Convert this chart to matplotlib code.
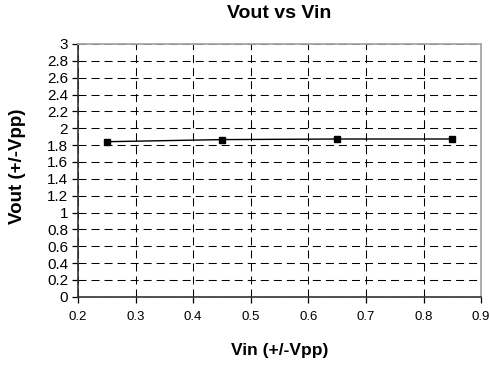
import matplotlib
matplotlib.use("Agg")
import matplotlib.pyplot as plt

# --- data ---
vin = [0.25, 0.45, 0.65, 0.85]
vout = [1.84, 1.865, 1.872, 1.872]
x_ticks = [0.2, 0.3, 0.4, 0.5, 0.6, 0.7, 0.8, 0.9]
y_ticks = [round(0.2 * i, 1) for i in range(16)]

plt.rcParams['font.family'] = ['Liberation Sans', 'DejaVu Sans']

fig = plt.figure(figsize=(4.9, 3.66), dpi=100)
ax = fig.add_axes([0.159, 0.189, 0.823, 0.691])

ax.plot(vin, vout, color='black', linewidth=1.0, marker='s', markersize=4.5, zorder=3)

ax.set_xlim(0.2, 0.9)
ax.set_ylim(0, 3)
ax.set_xticks(x_ticks)
ax.set_xticklabels([f"{t:g}" for t in x_ticks])
ax.set_yticks(y_ticks)
ax.set_yticklabels([f"{t:g}" for t in y_ticks])

# Excel-style dashed gridlines
ax.grid(True, color='black', linestyle=(0, (7.7, 4.8)), linewidth=0.75)
ax.set_axisbelow(True)
for s in ['top', 'right']:
    ax.spines[s].set_color('#a6a6a6')
    ax.spines[s].set_linewidth(1.3)
ax.spines['left'].set_linewidth(1.2)
ax.spines['bottom'].set_linewidth(1.2)
ax.spines['left'].set_color('#333333')
ax.spines['bottom'].set_color('#333333')

ax.tick_params(direction='out', length=4, width=0.9)
ax.tick_params(axis='x', labelsize=9.5, pad=6)
ax.tick_params(axis='y', labelsize=11, pad=3)

ax.set_title("Vout vs Vin", fontsize=14, fontweight='bold', y=1.119, va='center', pad=0)
ax.set_xlabel("Vin (+/-Vpp)", fontsize=12.5, fontweight='bold', va='center')
ax.xaxis.set_label_coords(0.5, -0.213)
ax.set_ylabel("Vout (+/-Vpp)", fontsize=13.5, fontweight='bold', va='center')
ax.yaxis.set_label_coords(-0.149, 0.515)

fig.savefig("out.png", dpi=100)
